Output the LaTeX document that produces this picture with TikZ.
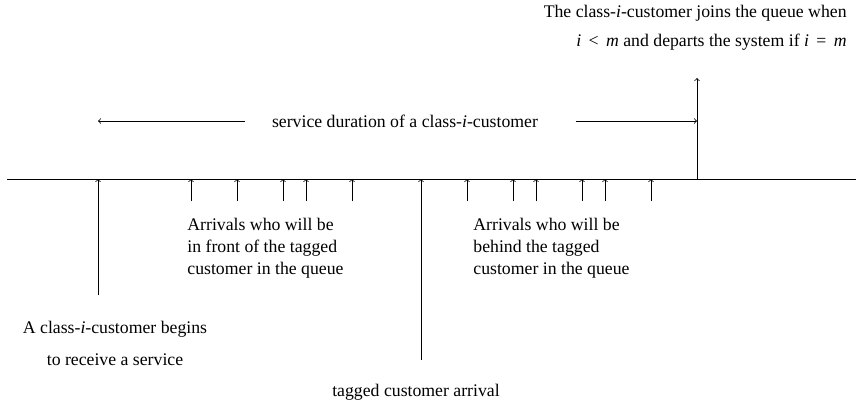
\documentclass[tikz,border=0pt]{standalone}
\usepackage{fontspec}
\setmainfont{Liberation Serif}
\usetikzlibrary{positioning}

\begin{document}
\begin{tikzpicture}[x=0.75pt,y=-0.75pt,>=to,line width=0.6pt]
\tikzset{lbl/.style={font=\fontsize{13.3}{16.5}\selectfont,inner sep=0pt,align=left}}
\useasboundingbox (0,0) rectangle (856,405);

%Draw the time axis
	\draw (7,179) coordinate (axisL) -- (856,179) coordinate (axisR);

%Points on the axis where the service starts, the tagged customer arrives and the service ends
	\coordinate (start) at (98,179);
	\coordinate (tag) at (421,179);
	\coordinate (depart) at (697,179);

%Draws the service start, tagged arrival and departure arrows
	\draw [->] (98,295) coordinate (startB) -- (start);
	\draw [->] (421,360) coordinate (tagB) -- (tag);
	\draw [->] (depart) -- (697,78) coordinate (departT);

%The foreach command draws the other arrivals, first in front, then behind
	\foreach \x in {191,237,283,306,352,467,513,536,582,605,651}
		{
		\draw [->] (\x,201) -- (\x,179);
		}

%Service duration with its two arrows
	\node[lbl] (svc) at (405,121) {service duration of a class-\textit{i}\/-customer};
	\coordinate (svcL) at (98,121);
	\coordinate (svcR) at (697,121);
	\draw [->] ([xshift=-20pt]svc.west) -- (svcL);
	\draw [->] ([xshift=28pt]svc.east) -- (svcR);

%Labels
	\node[lbl,align=right,anchor=east,font=\fontsize{13.3}{21.75}\selectfont] (joins) at (847,27.5)
		{The class-\textit{i}\/-customer joins the queue when\\ \textit{i}\ \,<\ \,\textit{m} and departs the system if \textit{i}\ \,=\ \,\textit{m}};
	\node[lbl,anchor=west] (front) at (187,248) {Arrivals who will be\\in front of the tagged\\customer in the queue};
	\node[lbl,anchor=west] (behind) at (473,248) {Arrivals who will be\\behind the tagged\\customer in the queue};
	\node[lbl,align=center,font=\fontsize{13.3}{24}\selectfont] (begins) at (115,343)
		{A class-\textit{i}\/-customer begins\\to receive a service};
	\node[lbl] (tagged) at (416,392) {tagged customer arrival};

\end{tikzpicture}
\end{document}
